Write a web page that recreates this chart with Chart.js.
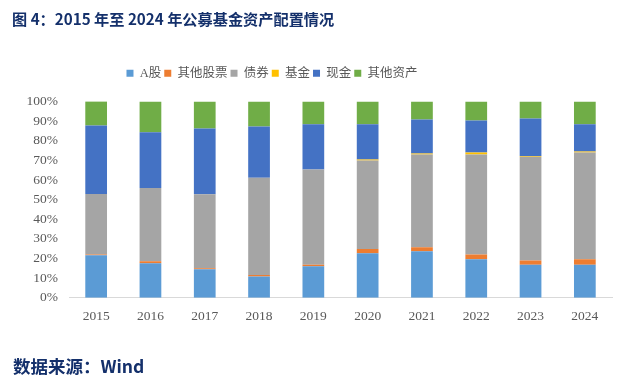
<!DOCTYPE html>
<html>
<head>
<meta charset="utf-8">
<script src="https://cdn.jsdelivr.net/npm/chart.js@4"></script>
<style>
html,body{margin:0;padding:0;background:#fff;}
#wrap{position:relative;width:619px;height:380px;overflow:hidden;}
#title{position:absolute;left:12px;top:7px;font-family:"Noto Sans CJK SC","Noto Sans",sans-serif;font-weight:bold;font-size:15.2px;color:#14306b;white-space:nowrap;line-height:22px;}
#source{position:absolute;left:13px;top:355px;font-family:"Noto Sans CJK SC","Noto Sans",sans-serif;font-weight:bold;font-size:17.5px;color:#14306b;white-space:nowrap;line-height:22px;}
#c{position:absolute;left:0;top:0;}
</style>
</head>
<body>
<div id="wrap">
<canvas id="c" width="619" height="380"></canvas>
<div id="title">图 4：2015 年至 2024 年公募基金资产配置情况</div>
<div id="source">数据来源：Wind</div>
</div>
<script>
const years = ["2015","2016","2017","2018","2019","2020","2021","2022","2023","2024"];
const aShares     = [21.7, 17.6, 14.5, 10.8, 16.1, 22.7, 23.7, 19.6, 16.9, 16.9];
const otherStocks = [0.4, 1.0, 0.5, 0.8, 0.7, 2.1, 2.1, 2.4, 2.1, 2.7];
const bonds       = [30.8, 37.3, 37.8, 49.6, 48.5, 45.1, 47.2, 51.0, 52.9, 54.4];
const funds       = [0.0, 0.0, 0.0, 0.0, 0.0, 0.5, 0.5, 1.0, 0.4, 0.5];
const cash        = [34.9, 28.4, 33.5, 26.1, 23.1, 18.0, 17.3, 16.3, 19.1, 13.9];
const otherAssets = [12.3, 15.7, 13.7, 12.7, 11.6, 11.6, 9.2, 9.7, 8.6, 11.6];
const seriesNames = ["A股","其他股票","债券","基金","现金","其他资产"];
const seriesColors = ["#5B9BD5","#ED7D31","#A5A5A5","#FFC000","#4472C4","#70AD47"];
const seriesData = [aShares, otherStocks, bonds, funds, cash, otherAssets];

const legendShift = {
  id: 'legendShift',
  beforeLayout(chart) {
    const l = chart.legend;
    if (l && !l._extra) {
      const f = l.fit.bind(l);
      l.fit = function () { f(); this.height += 12; };
      l._extra = true;
    }
  },
  afterLayout(chart) {
    const l = chart.legend;
    if (!l) return;
    const target = 272;
    const dx = target - (l.left + l.right) / 2;
    l.left += dx; l.right += dx;
  }
};

new Chart(document.getElementById('c'), {
  type: 'bar',
  data: {
    labels: years,
    datasets: seriesNames.map((n, i) => ({
      label: n,
      data: seriesData[i],
      backgroundColor: seriesColors[i],
      borderWidth: 0,
      categoryPercentage: 1.0,
      barPercentage: 0.40
    }))
  },
  options: {
    responsive: false,
    animation: false,
    devicePixelRatio: 1,
    layout: { padding: { left: 0, right: 7, top: 64, bottom: 44 } },
    plugins: {
      tooltip: { enabled: false },
      legend: {
        position: 'top',
        labels: {
          boxWidth: 7, boxHeight: 7, padding: 3,
          color: '#595959',
          font: { family: '"Liberation Serif","Noto Sans CJK SC",serif', size: 12.5 }
        }
      }
    },
    scales: {
      x: {
        stacked: true,
        grid: { display: false, drawTicks: false },
        border: { display: true, color: '#d9d9d9', width: 1 },
        ticks: { color: '#595959', padding: 11, font: { family: '"Liberation Serif",serif', size: 13.5 } }
      },
      y: {
        stacked: true,
        min: 0, max: 100,
        afterFit(s) { s.width = 69; },
        grid: { display: false, drawTicks: false },
        border: { display: false },
        ticks: {
          stepSize: 10,
          color: '#595959',
          padding: 11,
          font: { family: '"Liberation Serif",serif', size: 13.5 },
          callback: v => v + '%'
        }
      }
    }
  },
  plugins: [legendShift]
});
</script>
</body>
</html>
